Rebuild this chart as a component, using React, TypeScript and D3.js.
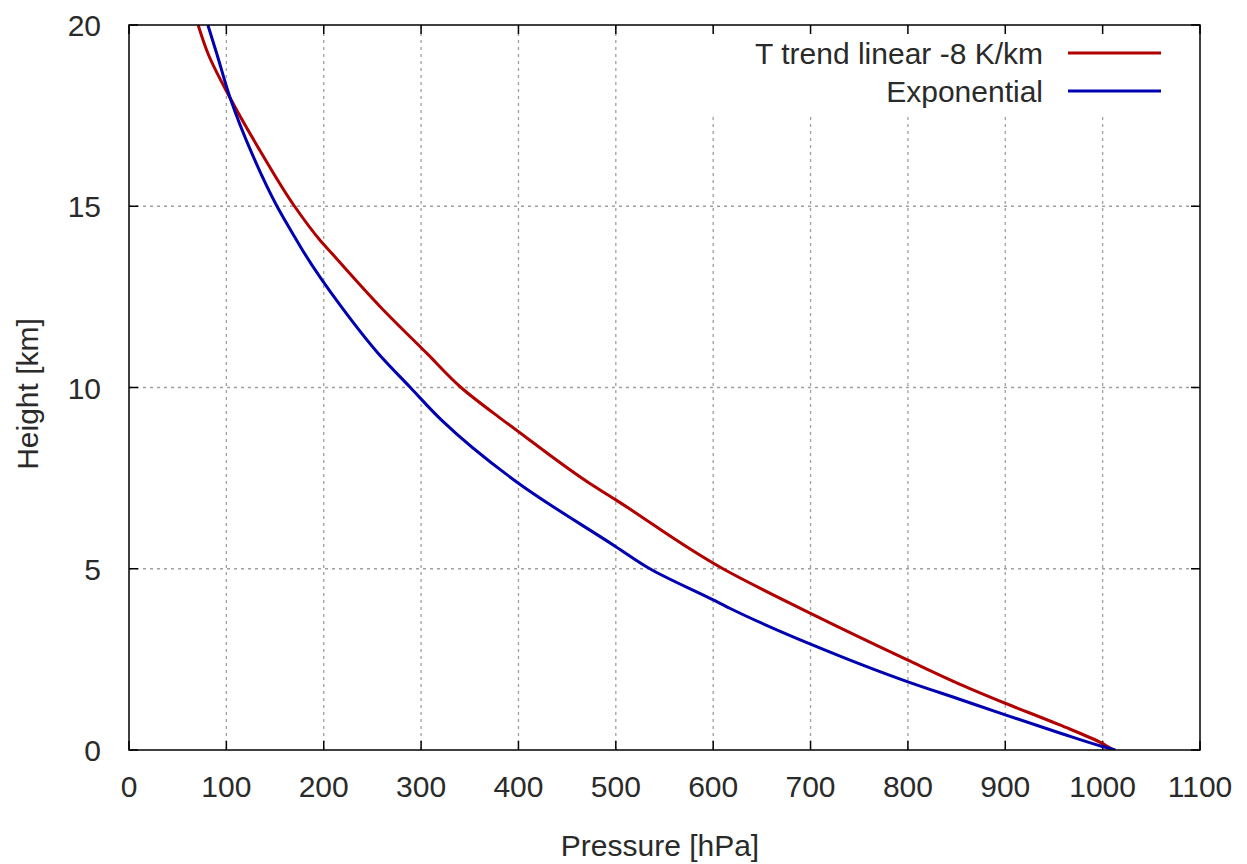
import React from "react";
import * as d3 from "d3";

// Pressure [hPa] and height [km], ordered by height
const linearP = [1011, 999, 956, 900, 853, 800, 700, 610, 500, 473, 409, 384, 341, 306, 258, 208, 196, 170, 136, 104, 81, 71];
const linearH = [0, 0.19, 0.69, 1.29, 1.82, 2.48, 3.77, 5.0, 6.9, 7.36, 8.6, 9.1, 10, 10.94, 12.23, 13.71, 14.07, 15, 16.47, 17.98, 19.22, 20];
const expP = [1013, 998, 956, 900, 853, 800, 700, 617, 600, 535, 500, 400, 321, 289, 256, 218, 180, 172, 152, 126, 104, 90, 81];
const expH = [0, 0.11, 0.47, 0.97, 1.4, 1.88, 2.92, 3.91, 4.14, 5.0, 5.61, 7.36, 9.1, 10, 10.94, 12.23, 13.71, 14.07, 15, 16.47, 17.98, 19.22, 20];

const xTicks = [0, 100, 200, 300, 400, 500, 600, 700, 800, 900, 1000, 1100];
const yTicks = [0, 5, 10, 15, 20];
const seriesNames = ["T trend linear -8 K/km", "Exponential"];
const seriesColors = ["#b00000", "#0000b0"];

const W = 1247, H = 864;
const L = 129, R = 1200, T = 25, B = 750;
const FONT = "'Liberation Sans', Arial, sans-serif";
const TEXT = "#2a2a2a";

export default function App() {
  const x = d3.scaleLinear().domain([0, 1100]).range([L, R]);
  const y = d3.scaleLinear().domain([0, 20]).range([B, T]);
  const line = d3
    .line<[number, number]>()
    .x((d) => x(d[0]))
    .y((d) => y(d[1]))
    .curve(d3.curveMonotoneY);
  const series = [
    linearP.map((p, i) => [p, linearH[i]] as [number, number]),
    expP.map((p, i) => [p, expH[i]] as [number, number]),
  ];
  const grid = "#a0a0a0";
  const legendTop = 27, legendBottom = 113, legendLeft = 650;
  return (
    <svg width={W} height={H} style={{ position: "absolute", left: 0, top: 0, background: "#fff" }} fontFamily={FONT}>
      <rect x={0} y={0} width={W} height={H} fill="#fff" />
      <defs>
        <clipPath id="plot">
          <rect x={L} y={T} width={R - L} height={B - T} />
        </clipPath>
      </defs>
      {/* grid */}
      {xTicks.filter((t) => t > 0 && t < 1100).map((t) => (
        <line key={"gx" + t} x1={x(t)} x2={x(t)} y1={B} y2={T} stroke={grid} strokeWidth={1.3} strokeDasharray="3,4" />
      ))}
      {yTicks.filter((t) => t > 0 && t < 20).map((t) => (
        <line key={"gy" + t} x1={L} x2={R} y1={y(t)} y2={y(t)} stroke={grid} strokeWidth={1.3} strokeDasharray="3,4" />
      ))}
      {/* legend background */}
      <rect x={legendLeft} y={legendTop} width={R - 2 - legendLeft} height={legendBottom - legendTop} fill="#fff" />
      {/* ticks */}
      {xTicks.map((t) => (
        <g key={"tx" + t}>
          <line x1={x(t)} x2={x(t)} y1={B} y2={B - 9} stroke="#000" strokeWidth={1.5} />
          <line x1={x(t)} x2={x(t)} y1={T} y2={T + 9} stroke="#000" strokeWidth={1.5} />
          <text x={x(t)} y={797} textAnchor="middle" fontSize={30} fill={TEXT}>{t}</text>
        </g>
      ))}
      {yTicks.map((t) => (
        <g key={"ty" + t}>
          <line x1={L} x2={L + 9} y1={y(t)} y2={y(t)} stroke="#000" strokeWidth={1.5} />
          <line x1={R} x2={R - 9} y1={y(t)} y2={y(t)} stroke="#000" strokeWidth={1.5} />
          <text x={101} y={y(t) + 11} textAnchor="end" fontSize={30} fill={TEXT}>{t}</text>
        </g>
      ))}
      {/* series */}
      <g clipPath="url(#plot)">
        {series.map((s, i) => (
          <path key={i} d={line(s) || ""} fill="none" stroke={seriesColors[i]} strokeWidth={3} strokeLinejoin="round" />
        ))}
      </g>
      {/* border */}
      <rect x={L} y={T} width={R - L} height={B - T} fill="none" stroke="#000" strokeWidth={1.5} />
      {/* legend */}
      {seriesNames.map((n, i) => (
        <g key={n}>
          <text x={1043} y={53 + i * 38 + 11} textAnchor="end" fontSize={30} fill={TEXT}>{n}</text>
          <line x1={1068} x2={1161} y1={53 + i * 38} y2={53 + i * 38} stroke={seriesColors[i]} strokeWidth={3} />
        </g>
      ))}
      {/* axis labels */}
      <text x={660} y={856} textAnchor="middle" fontSize={30} fill={TEXT}>Pressure [hPa]</text>
      <text transform={`translate(38,394) rotate(-90)`} textAnchor="middle" fontSize={30} fill={TEXT}>Height [km]</text>
    </svg>
  );
}
